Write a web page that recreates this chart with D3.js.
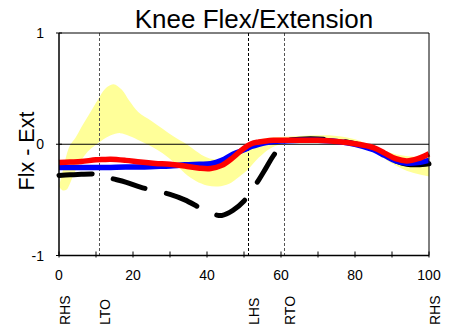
<!DOCTYPE html>
<html>
<head>
<meta charset="utf-8">
<script src="https://cdn.jsdelivr.net/npm/d3@7"></script>
<style>
  html, body { margin: 0; padding: 0; background: #fff; }
  svg { display: block; font-family: Arial, "Liberation Sans", sans-serif; }
</style>
</head>
<body>
<svg id="chart" width="459" height="331"></svg>
<script>
// Gait cycle (% of cycle) sample points for the normal band
const normPct   = [0, 1, 2, 3, 4.5, 6, 8, 10.5, 12.5, 14.7, 17, 19, 21.4, 25, 28, 31, 34.5, 37, 40, 43, 46, 48, 50, 52, 55, 60, 65, 70, 75, 80, 85, 90, 95, 100];
const normUpper = [-0.38, -0.24, -0.1, -0.01, 0.06, 0.15, 0.26, 0.4, 0.5, 0.54, 0.49, 0.39, 0.29, 0.21, 0.14, 0.07, 0.0, -0.06, -0.12, -0.14, -0.11, -0.07, -0.02, 0.02, 0.05, 0.065, 0.075, 0.08, 0.075, 0.045, -0.02, -0.08, -0.11, -0.11];
const normLowPct = [0, 1, 2, 3, 4, 5.5, 7.4, 9, 11.4, 14, 16.5, 19, 22, 25, 28, 31, 34, 37, 40, 43, 46, 48, 51, 54, 57, 60, 65, 70, 75, 80, 85, 88, 91, 95, 100];
const normLower = [-0.38, -0.415, -0.41, -0.35, -0.27, -0.17, -0.08, -0.03, 0.03, 0.08, 0.1, 0.075, 0.03, -0.02, -0.08, -0.16, -0.26, -0.33, -0.37, -0.38, -0.355, -0.31, -0.23, -0.12, -0.04, 0.0, 0.02, 0.025, 0.015, -0.01, -0.07, -0.13, -0.19, -0.25, -0.29];

// Gait cycle sample points shared by the three traces
const cyclePct = [0, 3, 6, 10, 12, 14, 18, 22, 26, 30, 34, 38, 41, 44, 47, 50, 52, 54, 56, 58, 61, 65, 70, 75, 80, 85, 88, 91, 94, 97, 100];
const blackTrace = [-0.28, -0.275, -0.27, -0.27, -0.285, -0.305, -0.34, -0.385, -0.42, -0.45, -0.5, -0.57, -0.62, -0.64, -0.595, -0.51, -0.42, -0.32, -0.21, -0.1, 0.02, 0.045, 0.048, 0.035, 0.005, -0.045, -0.095, -0.15, -0.18, -0.185, -0.175];
const blueTrace  = [-0.21, -0.21, -0.21, -0.21, -0.209, -0.208, -0.205, -0.205, -0.2, -0.195, -0.185, -0.18, -0.175, -0.145, -0.09, -0.05, -0.02, 0.0, 0.015, 0.025, 0.03, 0.035, 0.035, 0.025, 0.0, -0.05, -0.1, -0.15, -0.17, -0.165, -0.145];
const redTrace   = [-0.165, -0.16, -0.155, -0.14, -0.137, -0.135, -0.145, -0.16, -0.172, -0.18, -0.195, -0.215, -0.218, -0.19, -0.12, -0.035, 0.005, 0.02, 0.03, 0.035, 0.037, 0.037, 0.035, 0.025, 0.005, -0.03, -0.08, -0.13, -0.15, -0.13, -0.085];

// Gait events
const eventNames = ["RHS", "LTO", "LHS", "RTO", "RHS"];
const eventPct   = [0, 10.7, 51.2, 60.8, 100];
const eventLines = ["LTO", "LHS", "RTO"];

const xTicks = [0, 10, 20, 30, 40, 50, 60, 70, 80, 90, 100];
const xTickLabels = [0, 20, 40, 60, 80, 100];
const yTicks = [-1, 0, 1];

const svg = d3.select("#chart");
const plotLeft = 59, plotRight = 429, plotTop = 33, plotBottom = 255.5;

const x = d3.scaleLinear().domain([0, 100]).range([plotLeft, plotRight]);
const y = d3.scaleLinear().domain([-1, 1]).range([plotBottom, plotTop]);

// Title
svg.append("text")
  .attr("x", 254).attr("y", 28)
  .attr("text-anchor", "middle")
  .attr("font-size", 26)
  .text("Knee Flex/Extension");

// Y axis title
svg.append("text")
  .attr("transform", "translate(34,151) rotate(-90)")
  .attr("text-anchor", "middle")
  .attr("font-size", 21.5)
  .text("Flx - Ext");

// Normal band: upper edge left to right, then lower edge back
const smooth = d3.line().curve(d3.curveCatmullRom);
const upperPts = normPct.map((p, i) => [x(p), y(normUpper[i])]);
const lowerPts = normLowPct.map((p, i) => [x(p), y(normLower[i])]).reverse();
svg.append("path")
  .attr("d", smooth(upperPts) + "L" + smooth(lowerPts).slice(1) + "Z")
  .attr("fill", "#ffff99")
  .attr("stroke", "none");

// Zero line
svg.append("line")
  .attr("x1", x(0)).attr("x2", x(100))
  .attr("y1", y(0)).attr("y2", y(0))
  .attr("stroke", "#000").attr("stroke-width", 1.2);

// Event markers
eventLines.forEach(name => {
  const idx = eventNames.indexOf(name);
  const ex = Math.round(x(eventPct[idx])) + 0.5;
  svg.append("line")
    .attr("x1", ex).attr("x2", ex)
    .attr("y1", plotTop).attr("y2", plotBottom)
    .attr("stroke", name === "LHS" ? "#000" : "#555")
    .attr("stroke-width", 1)
    .attr("stroke-dasharray", "3,2");
});

// Traces
const line = d3.line()
  .x((d, i) => x(cyclePct[i]))
  .y(d => y(d))
  .curve(d3.curveCatmullRom);

svg.append("path")
  .attr("d", line(blackTrace))
  .attr("fill", "none")
  .attr("stroke", "#000")
  .attr("stroke-width", 5)
  .attr("stroke-linecap", "round")
  .attr("stroke-dasharray", "33,22");

svg.append("path")
  .attr("d", line(blueTrace))
  .attr("fill", "none")
  .attr("stroke", "#0000ff")
  .attr("stroke-width", 5.5);

svg.append("path")
  .attr("d", line(redTrace))
  .attr("fill", "none")
  .attr("stroke", "#ff0000")
  .attr("stroke-width", 5.5);

// Frame: top and right borders
svg.append("path")
  .attr("d", `M${plotLeft},${plotTop}H${plotRight}V${plotBottom}`)
  .attr("fill", "none").attr("stroke", "#000").attr("stroke-width", 1);

// X axis
const xAxis = svg.append("g");
xAxis.append("line")
  .attr("x1", plotLeft).attr("x2", plotRight)
  .attr("y1", plotBottom).attr("y2", plotBottom)
  .attr("stroke", "#000").attr("stroke-width", 1.5);
xTicks.forEach(t => {
  xAxis.append("line")
    .attr("x1", x(t)).attr("x2", x(t))
    .attr("y1", plotBottom - 4).attr("y2", plotBottom + 2)
    .attr("stroke", "#000").attr("stroke-width", 1);
});
xTickLabels.forEach(t => {
  xAxis.append("text")
    .attr("x", x(t)).attr("y", 280)
    .attr("text-anchor", "middle")
    .attr("font-size", 14)
    .text(t);
});

// Y axis
const yAxis = svg.append("g");
yAxis.append("line")
  .attr("x1", plotLeft).attr("x2", plotLeft)
  .attr("y1", plotTop).attr("y2", plotBottom)
  .attr("stroke", "#000").attr("stroke-width", 1.5);
yTicks.forEach(t => {
  yAxis.append("line")
    .attr("x1", plotLeft - 3).attr("x2", plotLeft + 3)
    .attr("y1", y(t)).attr("y2", y(t))
    .attr("stroke", "#000").attr("stroke-width", 1);
  yAxis.append("text")
    .attr("x", 44).attr("y", y(t))
    .attr("dy", "0.36em")
    .attr("text-anchor", "end")
    .attr("font-size", 14)
    .text(t);
});

// Event labels
eventNames.forEach((name, i) => {
  svg.append("text")
    .attr("transform", `translate(${x(eventPct[i]) + 11},325) rotate(-90)`)
    .attr("text-anchor", "start")
    .attr("font-size", 14)
    .text(name);
});
</script>
</body>
</html>
